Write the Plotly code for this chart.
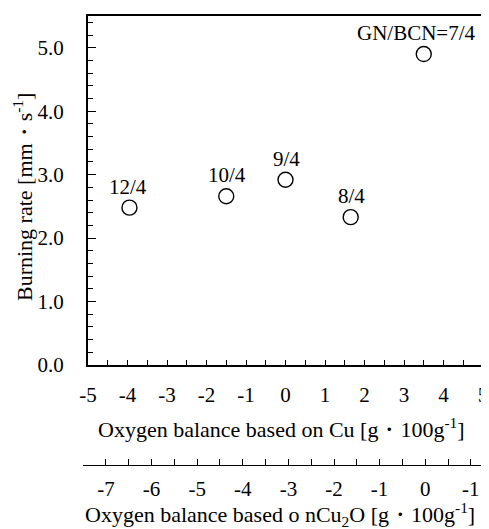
import plotly.graph_objects as go

# Data
ob_cu = [-3.95, -1.5, 0.0, 1.65, 3.5]
burning_rate = [2.48, 2.66, 2.92, 2.33, 4.90]
ratio_labels = ["12/4", "10/4", "9/4", "8/4", "GN/BCN=7/4"]

x1_tickvals = [-5, -4, -3, -2, -1, 0, 1, 2, 3, 4, 5]
x1_ticktext = ["-5", "-4", "-3", "-2", "-1", "0", "1", "2", "3", "4", "5"]
y_tickvals = [0, 1, 2, 3, 4, 5]
y_ticktext = ["0.0", "1.0", "2.0", "3.0", "4.0", "5.0"]
x2_tickvals = [-7, -6, -5, -4, -3, -2, -1, 0, 1]
x2_ticktext = ["-7", "-6", "-5", "-4", "-3", "-2", "-1", "0", "-1"]

FONT = "Liberation Serif, Times New Roman, Times, DejaVu Serif, serif"
FS = 21
TFS = 22
OFF = 8  # default page body margin
W, H = 489 - OFF, 529 - OFF


def px(x):
    return (x - OFF) / W


def py(y):
    return 1 - (y - OFF) / H


fig = go.Figure()
fig.add_trace(go.Scatter(
    x=ob_cu, y=burning_rate, mode="markers",
    marker=dict(symbol="circle-open", size=15, color="black", line=dict(width=1.4, color="black")),
    showlegend=False, hoverinfo="skip",
))
# empty trace so that the secondary (Cu2O) axis subplot is drawn
fig.add_trace(go.Scatter(
    x=x2_tickvals, y=[None] * len(x2_tickvals), xaxis="x2", yaxis="y2",
    mode="markers", showlegend=False, hoverinfo="skip",
))

label_xshift = {0: -1, 4: -7}
for i, (xv, yv, t) in enumerate(zip(ob_cu, burning_rate, ratio_labels)):
    fig.add_annotation(x=xv, y=yv, text=t, showarrow=False, xref="x", yref="y",
                       yshift=21, xshift=label_xshift.get(i, 1),
                       font=dict(family=FONT, size=FS, color="black"))

tickfont = dict(family=FONT, size=FS, color="black")

fig.update_layout(
    template="none",
    width=W, height=H,
    margin=dict(l=0, r=0, t=0, b=0, autoexpand=False),
    paper_bgcolor="white", plot_bgcolor="white",
    font=dict(family=FONT, size=FS, color="black"),
    xaxis=dict(
        domain=[px(88), px(483)], range=[-5, 5], anchor="y", automargin=False,
        tickmode="array", tickvals=x1_tickvals, ticktext=x1_ticktext,
        ticks="inside", ticklen=5, tickwidth=1.3, tickcolor="black",
        minor=dict(dtick=0.5, ticks="inside", ticklen=5, tickwidth=1.3, tickcolor="black"),
        showline=True, linewidth=2, linecolor="black", mirror=True,
        showgrid=False, zeroline=False, tickfont=tickfont, ticklabelstandoff=10,
    ),
    yaxis=dict(
        domain=[py(365), py(16)], range=[0, 5.5], anchor="x", automargin=False,
        tickmode="array", tickvals=y_tickvals, ticktext=y_ticktext,
        ticks="inside", ticklen=8, tickwidth=1.3, tickcolor="black",
        minor=dict(dtick=0.2, ticks="inside", ticklen=5, tickwidth=1.3, tickcolor="black"),
        showline=True, linewidth=2, linecolor="black", mirror=True,
        showgrid=False, zeroline=False, tickfont=tickfont, ticklabelstandoff=18,
    ),
    xaxis2=dict(
        domain=[px(83), 1.0], range=[-7.504, 1.399], anchor="y2", automargin=False,
        tickmode="array", tickvals=x2_tickvals, ticktext=x2_ticktext,
        ticks="inside", ticklen=6, tickwidth=1.3, tickcolor="black",
        minor=dict(dtick=0.5, ticks="inside", ticklen=6, tickwidth=1.3, tickcolor="black"),
        showline=True, linewidth=1.3, linecolor="black",
        showgrid=False, zeroline=False, tickfont=tickfont, ticklabelstandoff=5,
    ),
    yaxis2=dict(
        domain=[py(465), py(455)], range=[0, 1], anchor="x2", automargin=False,
        showline=False, showticklabels=False, ticks="",
        showgrid=False, zeroline=False,
    ),
)

title_font = dict(family=FONT, size=TFS, color="black")
fig.add_annotation(x=px(281), y=py(428), xref="paper", yref="paper", showarrow=False,
                   text="Oxygen balance based on Cu [g\u30fb100g<sup>-1</sup>]", font=title_font,
                   xanchor="center", yanchor="middle")
fig.add_annotation(x=px(280), y=py(514), xref="paper", yref="paper", showarrow=False,
                   text="Oxygen balance based o nCu<sub>2</sub>O [g\u30fb100g<sup>-1</sup>]", font=title_font,
                   xanchor="center", yanchor="middle")
fig.add_annotation(x=px(23), y=py(197), xref="paper", yref="paper", showarrow=False,
                   text="Burning rate [mm\u30fbs<sup>-1</sup>]", font=title_font, textangle=-90,
                   xanchor="center", yanchor="middle")

fig.write_html("out.html")
